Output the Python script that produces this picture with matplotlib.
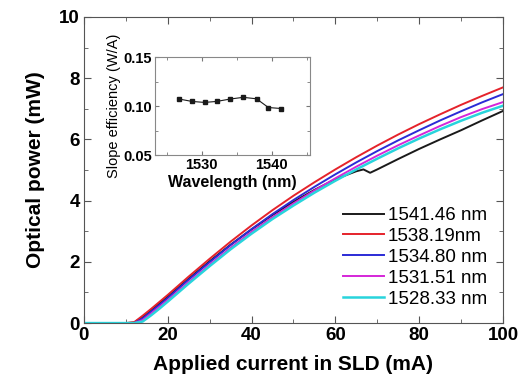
import matplotlib
matplotlib.use("Agg")
import matplotlib.pyplot as plt
from matplotlib.ticker import MultipleLocator

plt.rcParams['font.family'] = ['Liberation Sans', 'DejaVu Sans']

# applied current (mA) and optical power (mW)
current = [0, 5, 10, 12, 14, 16, 18, 20, 25, 30, 35, 40, 45, 50, 55, 60,
           65, 70, 75, 80, 85, 90, 95, 100]
p_1538 = [0, 0, 0, 0.03, 0.24, 0.46, 0.69, 0.92, 1.52, 2.10, 2.66, 3.19,
          3.69, 4.16, 4.60, 5.02, 5.42, 5.80, 6.16, 6.50, 6.82, 7.13, 7.42, 7.70]
p_1534 = [0, 0, 0, 0, 0.15, 0.37, 0.59, 0.82, 1.42, 1.99, 2.55, 3.07, 3.56,
          4.02, 4.45, 4.86, 5.25, 5.62, 5.97, 6.30, 6.62, 6.92, 7.21, 7.48]
p_1531 = [0, 0, 0, 0, 0.1, 0.31, 0.53, 0.75, 1.34, 1.91, 2.46, 2.98, 3.46,
          3.91, 4.33, 4.73, 5.11, 5.47, 5.81, 6.13, 6.44, 6.73, 6.99, 7.22]
p_1528 = [0, 0, 0, 0, 0.05, 0.25, 0.47, 0.70, 1.29, 1.86, 2.41, 2.92, 3.40,
          3.84, 4.26, 4.65, 5.02, 5.37, 5.71, 6.03, 6.33, 6.61, 6.87, 7.10]
current_1541 = [0, 5, 10, 12, 14, 16, 18, 20, 25, 30, 35, 40, 45, 50, 55, 60,
                65, 66.7, 68.3, 70, 75, 80, 85, 90, 95, 100]
p_1541 = [0, 0, 0, 0.02, 0.2, 0.42, 0.64, 0.86, 1.45, 2.02, 2.56, 3.06, 3.53,
          3.96, 4.35, 4.70, 4.96, 5.02, 4.91, 5.02, 5.36, 5.69, 6.00, 6.30,
          6.62, 6.93]

labels = ['1541.46 nm', '1538.19nm', '1534.80 nm', '1531.51 nm', '1528.33 nm']
colors = ['#1a1a1a', '#e5232b', '#2b2bd6', '#d526d8', '#28d4dc']

# inset: slope efficiency vs wavelength
wavelength = [1526.8, 1528.6, 1530.4, 1532.1, 1534.0, 1535.9, 1537.8,
              1539.5, 1541.3]
slope_eff = [0.1072, 0.1048, 0.1038, 0.1048, 0.1072, 0.109, 0.1075,
             0.0986, 0.0976]

fig = plt.figure(figsize=(5.18, 3.86), dpi=100)
ax = fig.add_axes([0.162, 0.163, 0.809, 0.793])

ax.plot(current_1541, p_1541, color=colors[0], lw=1.4, label=labels[0])
ax.plot(current, p_1538, color=colors[1], lw=1.4, label=labels[1])
ax.plot(current, p_1534, color=colors[2], lw=1.4, label=labels[2])
ax.plot(current, p_1531, color=colors[3], lw=1.4, label=labels[3])
ax.plot(current, p_1528, color=colors[4], lw=1.8, label=labels[4])

ax.set_xlim(0, 100)
ax.set_ylim(0, 10)
ax.xaxis.set_major_locator(MultipleLocator(20))
ax.xaxis.set_minor_locator(MultipleLocator(10))
ax.yaxis.set_major_locator(MultipleLocator(2))
ax.yaxis.set_minor_locator(MultipleLocator(1))
ax.tick_params(which='both', direction='in', top=True, right=True,
               color='#555555', labelsize=13.5, pad=3)
ax.tick_params(which='major', length=5)
ax.tick_params(which='minor', length=3)
for t in ax.get_xticklabels() + ax.get_yticklabels():
    t.set_fontweight('bold')
for s in ax.spines.values():
    s.set_color('#555555')
ax.set_xlabel('Applied current in SLD (mA)', fontsize=15, fontweight='bold',
              labelpad=8)
ax.set_ylabel('Optical power (mW)', fontsize=15, fontweight='bold',
              labelpad=10)

leg = ax.legend(loc='lower right', bbox_to_anchor=(0.985, 0.02),
                frameon=False, fontsize=13.5, handlelength=2.2,
                handletextpad=0.2, labelspacing=0.2, borderpad=0)

ins = fig.add_axes([0.299, 0.598, 0.299, 0.254])
ins.plot(wavelength, slope_eff, color='#1a1a1a', lw=0.8, marker='s',
         markersize=3.5)
ins.set_xlim(1523.3, 1545.4)
ins.set_ylim(0.05, 0.15)
ins.xaxis.set_major_locator(MultipleLocator(10))
ins.xaxis.set_minor_locator(MultipleLocator(5))
ins.yaxis.set_minor_locator(MultipleLocator(0.025))
ins.set_yticks([0.05, 0.10, 0.15])
ins.set_yticklabels(['0.05', '0.10', '0.15'])
ins.tick_params(which='both', direction='in', top=True, right=True,
                color='#777777', labelsize=10.5, pad=2)
ins.tick_params(which='major', length=3)
ins.tick_params(which='minor', length=2)
for t in ins.get_xticklabels() + ins.get_yticklabels():
    t.set_fontweight('bold')
for s in ins.spines.values():
    s.set_color('#888888')
ins.set_xlabel('Wavelength (nm)', fontsize=11.5, fontweight='bold',
               labelpad=2)
ins.set_ylabel('Slope efficiency (W/A)', fontsize=10.5, labelpad=2)

fig.savefig('out.png', dpi=100)
